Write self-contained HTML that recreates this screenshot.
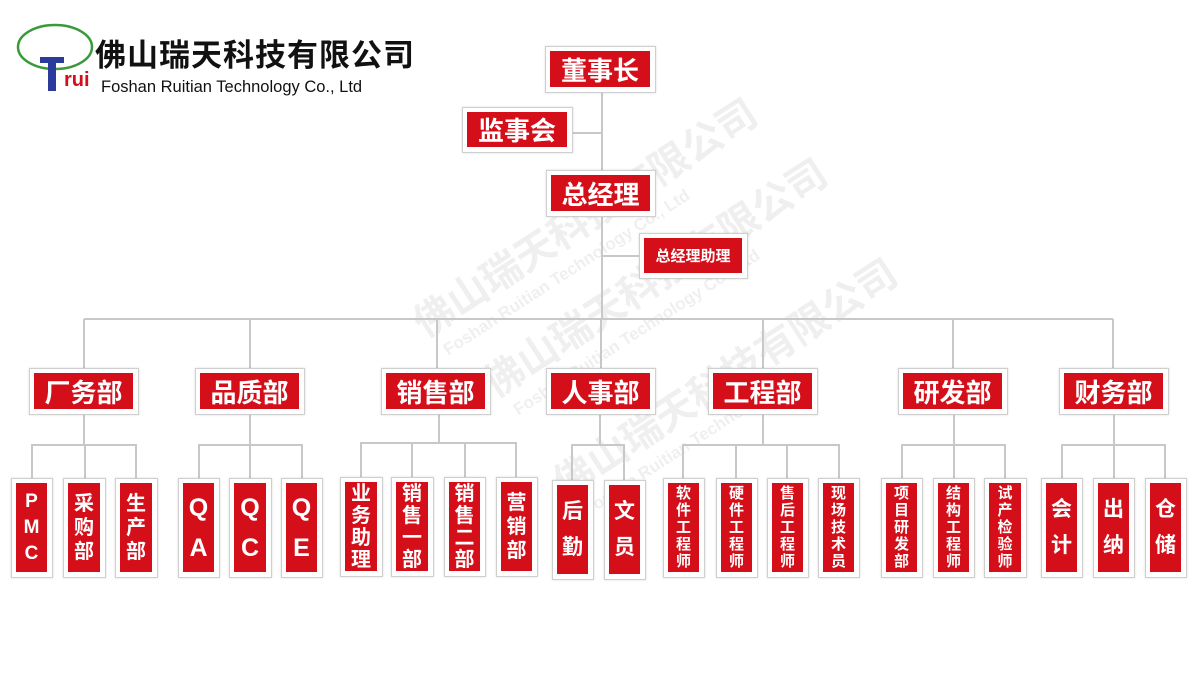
<!DOCTYPE html>
<html><head><meta charset="utf-8"><style>
body{margin:0;width:1200px;height:677px;background:#fff;position:relative;overflow:hidden;font-family:"Liberation Sans","Noto Sans CJK SC",sans-serif;}
.b{position:absolute;background:#fff;border:1px solid #cfcfcf;box-shadow:0 0 2px rgba(0,0,0,.15);box-sizing:border-box;padding:4px 5px 5px 4px;}
.b>div{background:#d40f1a;width:100%;height:100%;color:#fff;font-weight:bold;display:flex;align-items:center;justify-content:center;text-align:center;}
.d>div{font-size:26px;}
.s>div{flex-direction:column;}
.wm{position:absolute;color:#000;opacity:.06;font-weight:bold;transform-origin:0 0;transform:rotate(-33deg);white-space:nowrap}
.wm .c{font-size:40px}.wm .e{font-size:17px;display:block;margin-left:10px}
.f5{font-size:15px;line-height:17px}
.f4{font-size:20px;line-height:22px}
.f3{font-size:20px;line-height:24px}
.f2{font-size:21px;line-height:36px}
.fq{font-size:25px;line-height:40px}
</style></head><body>
<div class="wm" style="left:400px;top:300px"><span class="c">佛山瑞天科技有限公司</span><span class="e">Foshan Ruitian Technology Co., Ltd</span></div>
<div class="wm" style="left:470px;top:360px"><span class="c">佛山瑞天科技有限公司</span><span class="e">Foshan Ruitian Technology Co., Ltd</span></div>
<div class="wm" style="left:540px;top:460px"><span class="c">佛山瑞天科技有限公司</span><span class="e">Foshan Ruitian Technology</span></div>
<svg width="1200" height="677" style="position:absolute;left:0;top:0" fill="none" stroke="#c8c8c8" stroke-width="2">
<path d="M602 93V319M573 133H602M602 256H639M84 319H1113"/>
<path d="M84 319V368M250 319V368M437 319V368M601 319V368M763 319V368M953 319V368M1113 319V368"/>
<path d="M84 415V445M32 478V445H136V478M85 445V478"/>
<path d="M250 415V445M199 478V445H302V478M250 445V478"/>
<path d="M439 415V443M361 478V443H516V478M412 443V478M465 443V478"/>
<path d="M600 415V445M572 480V445H624V480"/>
<path d="M763 415V445M683 478V445H839V478M736 445V478M787 445V478"/>
<path d="M954 415V445M902 478V445H1005V478M954 445V478"/>
<path d="M1114 415V445M1062 478V445H1165V478M1114 445V478"/>
<ellipse cx="55" cy="47" rx="37" ry="22" stroke="#3a9a3a" stroke-width="2.5"/>
</svg>
<div style="position:absolute;left:40px;top:57px;width:24px;height:6px;background:#2b3b9c"></div>
<div style="position:absolute;left:48px;top:57px;width:8px;height:34px;background:#2b3b9c"></div>
<div style="position:absolute;left:64px;top:70px;color:#d40f1a;font-weight:bold;font-size:20px;line-height:20px">rui</div>
<div style="position:absolute;left:95px;top:36px;font-size:31px;font-weight:bold;color:#111;letter-spacing:1px;line-height:40px">佛山瑞天科技有限公司</div>
<div style="position:absolute;left:101px;top:77px;font-size:16.5px;color:#111;line-height:20px">Foshan Ruitian Technology Co., Ltd</div>

<div class="b d" style="left:545px;top:46px;width:111px;height:47px"><div>董事长</div></div>
<div class="b d" style="left:462px;top:107px;width:111px;height:46px"><div>监事会</div></div>
<div class="b d" style="left:546px;top:170px;width:110px;height:47px"><div>总经理</div></div>
<div class="b" style="left:639px;top:233px;width:109px;height:46px"><div style="font-size:15px">总经理助理</div></div>

<div class="b d" style="left:29px;top:368px;width:110px;height:47px"><div>厂务部</div></div>
<div class="b d" style="left:195px;top:368px;width:110px;height:47px"><div>品质部</div></div>
<div class="b d" style="left:381px;top:368px;width:110px;height:47px"><div>销售部</div></div>
<div class="b d" style="left:546px;top:368px;width:110px;height:47px"><div>人事部</div></div>
<div class="b d" style="left:708px;top:368px;width:110px;height:47px"><div>工程部</div></div>
<div class="b d" style="left:898px;top:368px;width:110px;height:47px"><div>研发部</div></div>
<div class="b d" style="left:1059px;top:368px;width:110px;height:47px"><div>财务部</div></div>

<div class="b s" style="left:11px;top:478px;width:42px;height:100px"><div style="font-size:19px;line-height:26px">P<br>M<br>C</div></div>
<div class="b s" style="left:63px;top:478px;width:43px;height:100px"><div class="f3">采<br>购<br>部</div></div>
<div class="b s" style="left:115px;top:478px;width:43px;height:100px"><div class="f3">生<br>产<br>部</div></div>
<div class="b s" style="left:178px;top:478px;width:42px;height:100px"><div class="fq">Q<br>A</div></div>
<div class="b s" style="left:229px;top:478px;width:43px;height:100px"><div class="fq">Q<br>C</div></div>
<div class="b s" style="left:281px;top:478px;width:42px;height:100px"><div class="fq">Q<br>E</div></div>
<div class="b s" style="left:340px;top:477px;width:43px;height:100px"><div class="f4">业<br>务<br>助<br>理</div></div>
<div class="b s" style="left:391px;top:477px;width:43px;height:100px"><div class="f4">销<br>售<br>一<br>部</div></div>
<div class="b s" style="left:444px;top:477px;width:42px;height:100px"><div class="f4">销<br>售<br>二<br>部</div></div>
<div class="b s" style="left:496px;top:477px;width:42px;height:100px"><div class="f3">营<br>销<br>部</div></div>
<div class="b s" style="left:552px;top:480px;width:42px;height:100px"><div class="f2">后<br>勤</div></div>
<div class="b s" style="left:604px;top:480px;width:42px;height:100px"><div class="f2">文<br>员</div></div>
<div class="b s" style="left:663px;top:478px;width:42px;height:100px"><div class="f5">软<br>件<br>工<br>程<br>师</div></div>
<div class="b s" style="left:716px;top:478px;width:42px;height:100px"><div class="f5">硬<br>件<br>工<br>程<br>师</div></div>
<div class="b s" style="left:767px;top:478px;width:42px;height:100px"><div class="f5">售<br>后<br>工<br>程<br>师</div></div>
<div class="b s" style="left:818px;top:478px;width:42px;height:100px"><div class="f5">现<br>场<br>技<br>术<br>员</div></div>
<div class="b s" style="left:881px;top:478px;width:42px;height:100px"><div class="f5">项<br>目<br>研<br>发<br>部</div></div>
<div class="b s" style="left:933px;top:478px;width:42px;height:100px"><div class="f5">结<br>构<br>工<br>程<br>师</div></div>
<div class="b s" style="left:984px;top:478px;width:43px;height:100px"><div class="f5">试<br>产<br>检<br>验<br>师</div></div>
<div class="b s" style="left:1041px;top:478px;width:42px;height:100px"><div class="f2">会<br>计</div></div>
<div class="b s" style="left:1093px;top:478px;width:42px;height:100px"><div class="f2">出<br>纳</div></div>
<div class="b s" style="left:1145px;top:478px;width:42px;height:100px"><div class="f2">仓<br>储</div></div>
</body></html>
